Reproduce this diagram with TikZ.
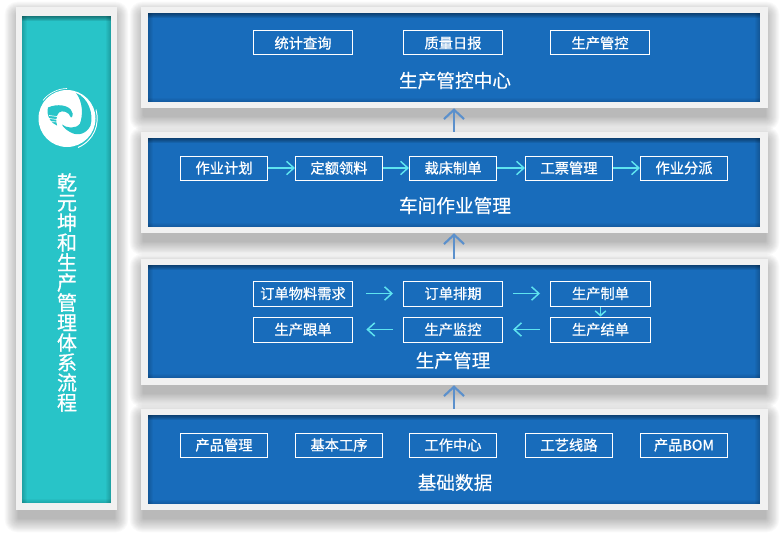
\documentclass[tikz,border=0pt]{standalone}
\usepackage{fontspec}
\setmainfont[FakeBold=0.2]{Noto Sans CJK SC}
\newfontfamily\cjkb[FakeBold=0.8]{Noto Sans CJK SC}
\usetikzlibrary{arrows.meta}
\definecolor{mainblue}{HTML}{186CBB}
\definecolor{mainteal}{HTML}{28C4C8}
\definecolor{framegrey}{HTML}{F1F1F1}
\definecolor{flowcyan}{HTML}{5EE4F0}
\definecolor{uparrow}{HTML}{5B90CC}
\newcommand{\tightlines}{\lineskiplimit=-30pt\relax\lineskip=0pt\relax}
\tikzset{
  x=0.75pt,y=-0.75pt,
  inbox/.style={draw=white,line width=0.75pt,text=white,inner sep=0pt,font=\cjkb\fontsize{10.7}{12}\selectfont},
  frame/.style={fill=framegrey,draw=none,inner sep=0pt},
  paneltitle/.style={text=white,inner sep=0pt,font=\fontsize{14}{15}\selectfont},
  flow/.style={draw=flowcyan,line width=1.1pt,-{Straight Barb[length=5.5pt,width=10pt,line width=1.1pt]}},
  shortflow/.style={draw=flowcyan,line width=1.1pt,-{Straight Barb[length=3.5pt,width=8pt,line width=1.1pt]}},
  upflow/.style={draw=uparrow,line width=1.6pt,-{Straight Barb[length=7pt,width=15pt,line width=1.6pt]}},
}
% name, x1, x2, y1, y2, text
\newcommand{\ibox}[6]{\node[inbox,minimum width={(#3-#2-1)*0.75pt},minimum height={(#5-#4-1)*0.75pt}] (#1) at ({(#2+#3)/2},{(#4+#5)/2-0.5}) {#6};}
\newcommand{\softshadow}[4]{%
  \foreach \k in {1,...,16}{%
    \fill[black,opacity=0.018,rounded corners=\k*0.6pt] ({#1+3-\k*0.9},{#2+9-\k*0.9}) rectangle ({#3-3+\k*0.9},{#4+8+\k*0.9});
  }}
\def\insL{7}\def\insT{6}\def\insR{8}\def\insB{6}
% name, x1, y1, x2, y2, fill colour
\newcommand{\panel}[6]{%
  \node[frame,minimum width={(#4-#2)*0.75pt},minimum height={(#5-#3)*0.75pt}] (#1) at ({(#2+#4)/2},{(#3+#5)/2}) {};
  \fill[#6] ({#2+\insL},{#3+\insT}) rectangle ({#4-\insR},{#5-\insB});
  \foreach \k in {0,...,4}{%
    \fill[black,opacity=0.09] ({#2+\insL},{#3+\insT}) rectangle ({#4-\insR},{#3+\insT+5-\k});
    \fill[black,opacity=0.035] ({#2+\insL},{#3+\insT}) rectangle ({#2+\insL+5-\k},{#5-\insB});
    \fill[black,opacity=0.035] ({#4-\insR-5+\k},{#3+\insT}) rectangle ({#4-\insR},{#5-\insB});
    \fill[black,opacity=0.03] ({#2+\insL},{#5-\insB-4+\k}) rectangle ({#4-\insR},{#5-\insB});
  }}
\begin{document}
\begin{tikzpicture}
\useasboundingbox (0,0) rectangle (784,535);
\softshadow{16}{7}{117}{510}
\softshadow{141}{7}{768}{108}
\softshadow{141}{132}{768}{233}
\softshadow{141}{259}{768}{385}
\softshadow{141}{409}{768}{510}

\def\insL{6}\def\insT{9}\def\insR{6}\def\insB{7}
\panel{side}{16}{7}{117}{510}{mainteal}
\def\insL{7}\def\insT{6}\def\insR{8}\def\insB{6}
\panel{pa}{141}{7}{768}{108}{mainblue}
\panel{pb}{141}{132}{768}{233}{mainblue}
\def\insB{7}
\panel{pc}{141}{259}{768}{385}{mainblue}
\def\insB{6}
\panel{pd}{141}{409}{768}{510}{mainblue}

% logo
\begin{scope}[shift={(67,118.5)}]
\fill[white] (0,0) circle[radius=28.5];
\fill[mainteal] (9,-25.5) .. controls (21,-21) and (27,-5) .. (23.5,7)
  .. controls (20,15) and (11,18) .. (4,14)
  .. controls (0,12) and (-4,9) .. (-5,6)
  .. controls (-1,9.5) and (9,11) .. (13,5)
  .. controls (16,-3) and (16,-17) .. (9,-25.5) -- cycle;
\fill[mainteal] (-19,-11) .. controls (-10,-15) and (2,-14) .. (6,-6)
  .. controls (6,-3) and (5,-1) .. (4,-1)
  .. controls (2,-7) and (-5,-8.5) .. (-8,-6)
  .. controls (-11,-3) and (-11,3) .. (-10,7)
  .. controls (-16,5) and (-21,-3) .. (-19,-11) -- cycle;
\fill[white] (0,-14) -- (3,-20) -- (4,-15) -- (7,-18) -- (7,-13) -- (10,-12) -- (9,-7) -- (11,-3) -- (7,-2) -- (4,-9) -- cycle;
\draw[white,line width=0.5pt] (-18,-3) -- (-10,-2) (-18,0) -- (-10,1) (-17,3) -- (-10,3.5);
\draw[white,line width=0.7pt] (29,-9) .. controls (33,6) and (27,22) .. (11,29);
\draw[white,line width=0.5pt] (-24,-18) .. controls (-19,-25) and (-9,-30) .. (0,-30);
\end{scope}

\node[text=white,inner sep=0pt,align=center,font=\cjkb\fontsize{15}{15}\selectfont] (sidetitle) at (67,292.5)
 {\tightlines 乾\\元\\坤\\和\\生\\产\\管\\理\\体\\系\\流\\程};

% panel 1
\ibox{a1}{253}{353}{31}{56}{统计查询}
\ibox{a2}{403}{503}{31}{56}{质量日报}
\ibox{a3}{550}{650}{31}{56}{生产管控}
\node[paneltitle] (ta) at (455,80.5) {生产管控中心};

% panel 2
\ibox{b1}{180}{268}{156}{181}{作业计划}
\ibox{b2}{295}{383}{156}{181}{定额领料}
\ibox{b3}{409}{497}{156}{181}{裁床制单}
\ibox{b4}{525}{613}{156}{181}{工票管理}
\ibox{b5}{640}{728}{156}{181}{作业分派}
\node[paneltitle] (tb) at (455,205.5) {车间作业管理};
\draw[flow] (b1) -- (b2);
\draw[flow] (b2) -- (b3);
\draw[flow] (b3) -- (b4);
\draw[flow] (b4) -- (b5);

% panel 3
\ibox{c1}{253}{353}{281}{307}{订单物料需求}
\ibox{c2}{403}{503}{281}{307}{订单排期}
\ibox{c3}{550}{651}{281}{307}{生产制单}
\ibox{c4}{550}{651}{317}{343}{生产结单}
\ibox{c5}{403}{503}{317}{343}{生产监控}
\ibox{c6}{253}{353}{317}{343}{生产跟单}
\node[paneltitle] (tc) at (453,360.5) {生产管理};
\draw[flow,shorten <=10pt,shorten >=7.5pt] (c1) -- (c2);
\draw[flow,shorten <=7.5pt,shorten >=7.5pt] (c2) -- (c3);
\draw[shortflow] (c3) -- (c4);
\draw[flow,shorten <=7.5pt,shorten >=7.5pt] (c4) -- (c5);
\draw[flow,shorten <=7.5pt,shorten >=10pt] (c5) -- (c6);

% panel 4
\ibox{d1}{180}{268}{433}{458}{产品管理}
\ibox{d2}{295}{383}{433}{458}{基本工序}
\ibox{d3}{409}{497}{433}{458}{工作中心}
\ibox{d4}{525}{613}{433}{458}{工艺线路}
\ibox{d5}{640}{728}{433}{458}{产品BOM}
\node[paneltitle] (td) at (455,482.5) {基础数据};

% arrows between panels
\draw[upflow] (pd.north -| 454,0) -- (pc.south -| 454,0);
\draw[upflow] (pc.north -| 454,0) -- (pb.south -| 454,0);
\draw[upflow] (pb.north -| 454,0) -- (pa.south -| 454,0);
\end{tikzpicture}
\end{document}
